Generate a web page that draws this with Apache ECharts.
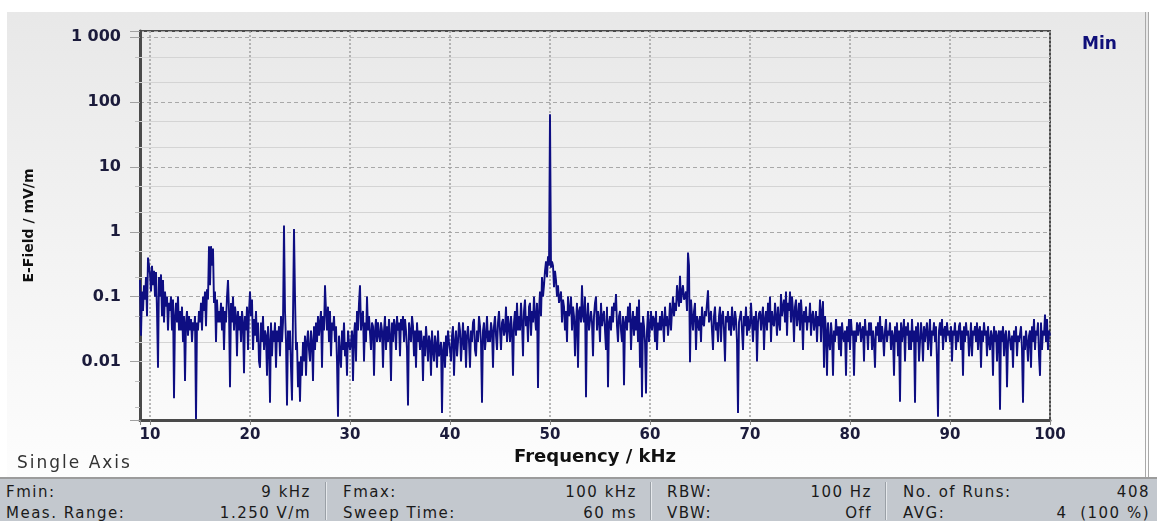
<!DOCTYPE html>
<html><head><meta charset="utf-8">
<script src="https://cdn.jsdelivr.net/npm/echarts@6/dist/echarts.min.js"></script>
<style>
html,body{margin:0;padding:0;width:1157px;height:521px;overflow:hidden;background:#fff;}
#panel{position:absolute;left:7px;top:12px;width:1138px;height:465px;background:linear-gradient(#e8e8e8,#fdfdfd);border-right:4px double #a9a9a9;}
#chart{position:absolute;left:0;top:0;width:1157px;height:478px;}
#single{position:absolute;left:17px;top:452px;font:17px "DejaVu Sans";color:#333;letter-spacing:2px;}
#status{position:absolute;left:0;top:477px;width:1157px;height:44px;background:#c3c8ce;border-top:2px solid #9c9c9c;}
.cell{position:absolute;font:15px "DejaVu Sans";color:#1a1a1a;line-height:18px;white-space:pre;letter-spacing:1.5px;}
.sep{position:absolute;top:3px;width:1px;height:38px;background:#9aa0a6;box-shadow:1px 0 0 #e6e9ec;}
</style></head>
<body>
<div id="panel"></div>
<div id="chart"></div>
<div id="single">Single Axis</div>
<div id="status"></div>
<script>
// Sweep grid (Fmin 9 kHz, 0.1 kHz spacing to Fmax 100 kHz)
const freqStart = 9.0;
const freqStep = 0.1;
// E-Field (mV/m), "Min" trace, 10 samples per kHz
const fieldMin = [
/* 9 */ 0.18, 0.025, 0.12, 0.06, 0.15, 0.09, 0.2, 0.05, 0.4, 0.3,
/*10 */ 0.22, 0.12, 0.3, 0.15, 0.25, 0.1, 0.24, 0.06, 0.008, 0.2,
/*11 */ 0.1, 0.22, 0.05, 0.18, 0.04, 0.12, 0.07, 0.1, 0.03, 0.08,
/*12 */ 0.06, 0.1, 0.03, 0.09, 0.0027, 0.05, 0.08, 0.04, 0.1, 0.03,
/*13 */ 0.06, 0.03, 0.07, 0.02, 0.05, 0.005, 0.04, 0.06, 0.025, 0.05,
/*14 */ 0.03, 0.045, 0.02, 0.04, 0.03, 0.05, 0.0013, 0.04, 0.03, 0.06,
/*15 */ 0.04, 0.08, 0.03, 0.1, 0.06, 0.12, 0.035, 0.13, 0.09, 0.6,
/*16 */ 0.15, 0.6, 0.3, 0.55, 0.08, 0.12, 0.02, 0.09, 0.04, 0.06,
/*17 */ 0.04, 0.08, 0.03, 0.07, 0.015, 0.06, 0.04, 0.1, 0.18, 0.06,
/*18 */ 0.004, 0.08, 0.04, 0.1, 0.03, 0.07, 0.05, 0.012, 0.06, 0.03,
/*19 */ 0.05, 0.02, 0.06, 0.04, 0.0066, 0.05, 0.03, 0.07, 0.015, 0.06,
/*20 */ 0.12, 0.05, 0.09, 0.015, 0.045, 0.025, 0.06, 0.02, 0.04, 0.01,
/*21 */ 0.008, 0.04, 0.02, 0.05, 0.015, 0.03, 0.025, 0.006, 0.035, 0.02,
/*22 */ 0.0023, 0.04, 0.012, 0.03, 0.02, 0.04, 0.008, 0.03, 0.02, 0.035,
/*23 */ 0.012, 0.05, 0.02, 0.04, 1.25, 0.06, 0.02, 0.0021, 0.03, 0.015,
/*24 */ 0.03, 0.008, 0.0025, 0.05, 1.1, 0.1, 0.015, 0.02, 0.004, 0.01,
/*25 */ 0.0024, 0.012, 0.006, 0.02, 0.01, 0.025, 0.006, 0.02, 0.03, 0.015,
/*26 */ 0.01, 0.03, 0.02, 0.005, 0.035, 0.015, 0.04, 0.02, 0.05, 0.025,
/*27 */ 0.04, 0.06, 0.008, 0.05, 0.03, 0.15, 0.06, 0.03, 0.07, 0.02,
/*28 */ 0.06, 0.012, 0.04, 0.03, 0.05, 0.02, 0.035, 0.01, 0.0014, 0.025,
/*29 */ 0.025, 0.008, 0.03, 0.015, 0.04, 0.012, 0.02, 0.006, 0.03, 0.02,
/*30 */ 0.015, 0.02, 0.03, 0.005, 0.025, 0.04, 0.01, 0.06, 0.03, 0.08,
/*31 */ 0.15, 0.03, 0.05, 0.06, 0.01, 0.04, 0.02, 0.1, 0.03, 0.05,
/*32 */ 0.05, 0.015, 0.04, 0.035, 0.006, 0.03, 0.045, 0.02, 0.04, 0.025,
/*33 */ 0.02, 0.04, 0.03, 0.008, 0.03, 0.05, 0.015, 0.035, 0.02, 0.045,
/*34 */ 0.025, 0.005, 0.04, 0.02, 0.045, 0.035, 0.015, 0.05, 0.03, 0.04,
/*35 */ 0.012, 0.045, 0.03, 0.05, 0.02, 0.045, 0.03, 0.015, 0.0021, 0.04,
/*36 */ 0.04, 0.02, 0.05, 0.035, 0.012, 0.03, 0.008, 0.04, 0.02, 0.03,
/*37 */ 0.015, 0.03, 0.02, 0.005, 0.025, 0.012, 0.035, 0.02, 0.01, 0.025,
/*38 */ 0.02, 0.006, 0.03, 0.015, 0.01, 0.025, 0.018, 0.008, 0.03, 0.012,
/*39 */ 0.012, 0.02, 0.0016, 0.015, 0.02, 0.008, 0.025, 0.012, 0.03, 0.02,
/*40 */ 0.015, 0.01, 0.025, 0.035, 0.006, 0.02, 0.03, 0.012, 0.02, 0.04,
/*41 */ 0.03, 0.01, 0.02, 0.04, 0.015, 0.03, 0.008, 0.025, 0.035, 0.02,
/*42 */ 0.008, 0.03, 0.02, 0.04, 0.045, 0.015, 0.012, 0.03, 0.02, 0.05,
/*43 */ 0.035, 0.02, 0.0023, 0.03, 0.04, 0.015, 0.025, 0.05, 0.02, 0.03,
/*44 */ 0.02, 0.04, 0.03, 0.008, 0.035, 0.05, 0.025, 0.015, 0.04, 0.06,
/*45 */ 0.06, 0.015, 0.04, 0.045, 0.025, 0.03, 0.07, 0.02, 0.05, 0.035,
/*46 */ 0.02, 0.05, 0.03, 0.006, 0.04, 0.06, 0.025, 0.08, 0.03, 0.05,
/*47 */ 0.03, 0.08, 0.04, 0.012, 0.06, 0.09, 0.035, 0.05, 0.02, 0.07,
/*48 */ 0.08, 0.025, 0.06, 0.04, 0.1, 0.05, 0.03, 0.08, 0.0039, 0.06,
/*49 */ 0.12, 0.05, 0.2, 0.1, 0.15, 0.25, 0.35, 0.2, 0.42, 0.3,
/*50 */ 65, 0.28, 0.35, 0.3, 0.14, 0.25, 0.18, 0.1, 0.15, 0.08,
/*51 */ 0.08, 0.12, 0.04, 0.09, 0.07, 0.03, 0.06, 0.02, 0.1, 0.05,
/*52 */ 0.06, 0.1, 0.03, 0.07, 0.05, 0.012, 0.04, 0.08, 0.008, 0.06,
/*53 */ 0.07, 0.04, 0.15, 0.05, 0.04, 0.1, 0.0028, 0.05, 0.08, 0.03,
/*54 */ 0.03, 0.06, 0.04, 0.012, 0.05, 0.08, 0.1, 0.03, 0.06, 0.045,
/*55 */ 0.02, 0.08, 0.035, 0.05, 0.06, 0.03, 0.015, 0.07, 0.004, 0.04,
/*56 */ 0.05, 0.03, 0.07, 0.04, 0.08, 0.06, 0.11, 0.035, 0.02, 0.05,
/*57 */ 0.06, 0.03, 0.02, 0.05, 0.0043, 0.04, 0.05, 0.03, 0.07, 0.04,
/*58 */ 0.08, 0.015, 0.04, 0.06, 0.025, 0.05, 0.03, 0.07, 0.02, 0.09,
/*59 */ 0.008, 0.04, 0.0028, 0.05, 0.035, 0.02, 0.0032, 0.03, 0.06, 0.02,
/*60 */ 0.02, 0.06, 0.03, 0.05, 0.045, 0.02, 0.06, 0.015, 0.04, 0.03,
/*61 */ 0.05, 0.03, 0.06, 0.04, 0.02, 0.07, 0.035, 0.05, 0.025, 0.04,
/*62 */ 0.08, 0.03, 0.06, 0.1, 0.05, 0.08, 0.06, 0.15, 0.1, 0.07,
/*63 */ 0.21, 0.08, 0.12, 0.15, 0.09, 0.1, 0.12, 0.06, 0.48, 0.3,
/*64 */ 0.0097, 0.09, 0.05, 0.03, 0.06, 0.08, 0.015, 0.05, 0.04, 0.03,
/*65 */ 0.05, 0.02, 0.07, 0.04, 0.035, 0.06, 0.05, 0.08, 0.125, 0.04,
/*66 */ 0.04, 0.06, 0.03, 0.015, 0.05, 0.07, 0.03, 0.04, 0.02, 0.05,
/*67 */ 0.07, 0.02, 0.05, 0.06, 0.03, 0.01, 0.05, 0.04, 0.06, 0.03,
/*68 */ 0.05, 0.025, 0.07, 0.04, 0.03, 0.06, 0.045, 0.02, 0.0016, 0.04,
/*69 */ 0.04, 0.06, 0.03, 0.015, 0.05, 0.035, 0.07, 0.025, 0.05, 0.03,
/*70 */ 0.035, 0.08, 0.04, 0.02, 0.05, 0.03, 0.06, 0.01, 0.04, 0.055,
/*71 */ 0.06, 0.03, 0.05, 0.07, 0.015, 0.045, 0.06, 0.03, 0.08, 0.04,
/*72 */ 0.1, 0.02, 0.06, 0.04, 0.035, 0.08, 0.05, 0.025, 0.07, 0.04,
/*73 */ 0.03, 0.11, 0.05, 0.07, 0.09, 0.04, 0.12, 0.025, 0.08, 0.06,
/*74 */ 0.12, 0.04, 0.1, 0.06, 0.02, 0.07, 0.09, 0.035, 0.05, 0.08,
/*75 */ 0.03, 0.09, 0.05, 0.015, 0.06, 0.04, 0.07, 0.03, 0.05, 0.04,
/*76 */ 0.08, 0.025, 0.05, 0.06, 0.03, 0.04, 0.06, 0.02, 0.05, 0.035,
/*77 */ 0.09, 0.02, 0.06, 0.085, 0.008, 0.05, 0.03, 0.006, 0.04, 0.02,
/*78 */ 0.015, 0.04, 0.025, 0.006, 0.03, 0.02, 0.045, 0.025, 0.035, 0.015,
/*79 */ 0.035, 0.012, 0.04, 0.025, 0.02, 0.03, 0.006, 0.035, 0.02, 0.045,
/*80 */ 0.015, 0.045, 0.025, 0.03, 0.006, 0.03, 0.02, 0.04, 0.025, 0.035,
/*81 */ 0.04, 0.02, 0.03, 0.035, 0.01, 0.045, 0.025, 0.03, 0.015, 0.04,
/*82 */ 0.025, 0.04, 0.015, 0.03, 0.02, 0.008, 0.035, 0.025, 0.04, 0.02,
/*83 */ 0.05, 0.02, 0.035, 0.025, 0.012, 0.03, 0.045, 0.02, 0.03, 0.025,
/*84 */ 0.04, 0.015, 0.03, 0.025, 0.006, 0.035, 0.02, 0.04, 0.012, 0.03,
/*85 */ 0.0024, 0.04, 0.02, 0.03, 0.045, 0.01, 0.035, 0.025, 0.04, 0.015,
/*86 */ 0.03, 0.015, 0.045, 0.02, 0.03, 0.0023, 0.035, 0.02, 0.04, 0.01,
/*87 */ 0.02, 0.04, 0.025, 0.01, 0.035, 0.02, 0.03, 0.04, 0.015, 0.025,
/*88 */ 0.045, 0.012, 0.03, 0.025, 0.04, 0.02, 0.035, 0.01, 0.0014, 0.03,
/*89 */ 0.04, 0.025, 0.045, 0.015, 0.03, 0.035, 0.02, 0.04, 0.025, 0.03,
/*90 */ 0.02, 0.035, 0.01, 0.03, 0.025, 0.04, 0.015, 0.03, 0.02, 0.035,
/*91 */ 0.04, 0.015, 0.03, 0.006, 0.035, 0.02, 0.04, 0.025, 0.03, 0.012,
/*92 */ 0.02, 0.04, 0.012, 0.03, 0.025, 0.035, 0.02, 0.04, 0.015, 0.03,
/*93 */ 0.035, 0.008, 0.03, 0.02, 0.04, 0.025, 0.03, 0.012, 0.035, 0.02,
/*94 */ 0.015, 0.03, 0.025, 0.006, 0.035, 0.02, 0.03, 0.01, 0.025, 0.03,
/*95 */ 0.0018, 0.03, 0.02, 0.035, 0.012, 0.025, 0.03, 0.004, 0.02, 0.03,
/*96 */ 0.03, 0.015, 0.025, 0.008, 0.03, 0.02, 0.035, 0.012, 0.025, 0.02,
/*97 */ 0.02, 0.035, 0.015, 0.0023, 0.025, 0.015, 0.03, 0.02, 0.01, 0.025,
/*98 */ 0.03, 0.008, 0.035, 0.02, 0.045, 0.015, 0.03, 0.025, 0.04, 0.012,
/*99 */ 0.006, 0.04, 0.015, 0.03, 0.025, 0.053, 0.02, 0.045, 0.015, 0.03,
/*100*/ 0.025
];
const xTickValues = [10, 20, 30, 40, 50, 60, 70, 80, 90, 100];
const yTickValues = [0.01, 0.1, 1, 10, 100, 1000];
const yTickLabels = ['0.01', '0.1', '1', '10', '100', '1 000'];
const minorGridValues = [0.002, 0.005, 0.02, 0.05, 0.2, 0.5, 2, 5, 20, 50, 200, 500];
const seriesName = 'Min';
const statusRows = [
  [['Fmin:', '9 kHz'], ['Fmax:', '100 kHz'], ['RBW:', '100 Hz'], ['No. of Runs:', '408']],
  [['Meas. Range:', '1.250 V/m'], ['Sweep Time:', '60 ms'], ['VBW:', 'Off'], ['AVG:', '4  (100 %)']]
];

// status bar
const colLeft = [6, 343, 667, 903];
const colRight = [311, 637, 872, 1150];
const rowTop = [4, 25];
const sb = document.getElementById('status');
statusRows.forEach((row, r) => row.forEach((c, k) => {
  const a = document.createElement('div'); a.className = 'cell';
  a.style.left = colLeft[k] + 'px'; a.style.top = rowTop[r] + 'px'; a.textContent = c[0]; sb.appendChild(a);
  const b = document.createElement('div'); b.className = 'cell';
  b.style.right = (1157 - colRight[k]) + 'px'; b.style.top = rowTop[r] + 'px'; b.textContent = c[1]; sb.appendChild(b);
}));
[325, 650, 885].forEach(x => { const s = document.createElement('div'); s.className = 'sep'; s.style.left = x + 'px'; sb.appendChild(s); });

const data = fieldMin.map((v, i) => [Math.round((freqStart + i * freqStep) * 10) / 10, v]);
const font = 'DejaVu Sans';
const chart = echarts.init(document.getElementById('chart'), null, {renderer: 'canvas'});
chart.setOption({
  animation: false,
  backgroundColor: 'transparent',
  grid: {left: 140, top: 31, width: 910, height: 389, show: true, borderColor: '#4a4a4a', borderWidth: 2, backgroundColor: 'transparent'},
  legend: {data: [seriesName], left: 1072, top: 31, icon: 'none', itemWidth: 0, itemGap: 0, selectedMode: false,
    textStyle: {fontFamily: font, fontWeight: 'bold', fontSize: 17, color: '#10107a'}},
  xAxis: {
    type: 'value', min: 9, max: 100, splitNumber: 9,
    name: 'Frequency / kHz', nameLocation: 'middle', nameGap: 27,
    nameTextStyle: {fontFamily: font, fontWeight: 'bold', fontSize: 18, color: '#111'},
    axisLine: {show: true, onZero: false, lineStyle: {color: '#4a4a4a', width: 3}},
    axisTick: {show: true, length: 5, lineStyle: {color: '#8a8a8a'}},
    axisLabel: {margin: 8, fontFamily: font, fontWeight: 'bold', fontSize: 15, color: '#1b1b3b',
      formatter: v => xTickValues.some(t => Math.abs(t - v) < 1e-6) ? String(v) : ''},
    splitLine: {show: true, lineStyle: {color: '#a0a0a0', type: [2, 2], width: 1.5}}
  },
  yAxis: [{
    type: 'log', logBase: 10, min: 0.00125, max: 1250,
    name: 'E-Field / mV/m', nameLocation: 'middle', nameGap: 104, nameRotate: 90,
    nameTextStyle: {fontFamily: font, fontWeight: 'bold', fontSize: 14, color: '#111'},
    axisLine: {show: true, lineStyle: {color: '#4a4a4a', width: 3}},
    axisTick: {show: true, length: 10, lineStyle: {color: '#a0a0a0'}},
    axisLabel: {margin: 19, fontFamily: font, fontWeight: 'bold', fontSize: 16, color: '#1b1b3b',
      formatter: v => { const i = yTickValues.findIndex(t => Math.abs(Math.log10(t) - Math.log10(v)) < 1e-6); return i >= 0 ? yTickLabels[i] : ''; }},
    splitLine: {show: true, lineStyle: {color: '#a8a8a8', type: [4, 3], width: 1}}
  }, {
    type: 'log', logBase: 10, min: 0.00125, max: 1250, position: 'left',
    axisLine: {show: false}, axisLabel: {show: false}, splitLine: {show: false},
    axisTick: {show: true, length: 5, customValues: minorGridValues, lineStyle: {color: '#c0c0c0'}}
  }],
  series: [{
    name: 'grid-minor', type: 'line', data: [], z: 1, silent: true, yAxisIndex: 0,
    markLine: {silent: true, symbol: ['none', 'none'], z: 1, animation: false, label: {show: false},
      lineStyle: {color: '#d4d4d4', type: 'solid', width: 1},
      data: minorGridValues.map(v => ({yAxis: v}))}
  }, {
    name: seriesName, type: 'line', data: data, showSymbol: false, z: 3, sampling: null,
    lineStyle: {color: '#0e0e82', width: 1.9}, itemStyle: {color: '#0e0e82'}
  }]
});
</script>
</body></html>
